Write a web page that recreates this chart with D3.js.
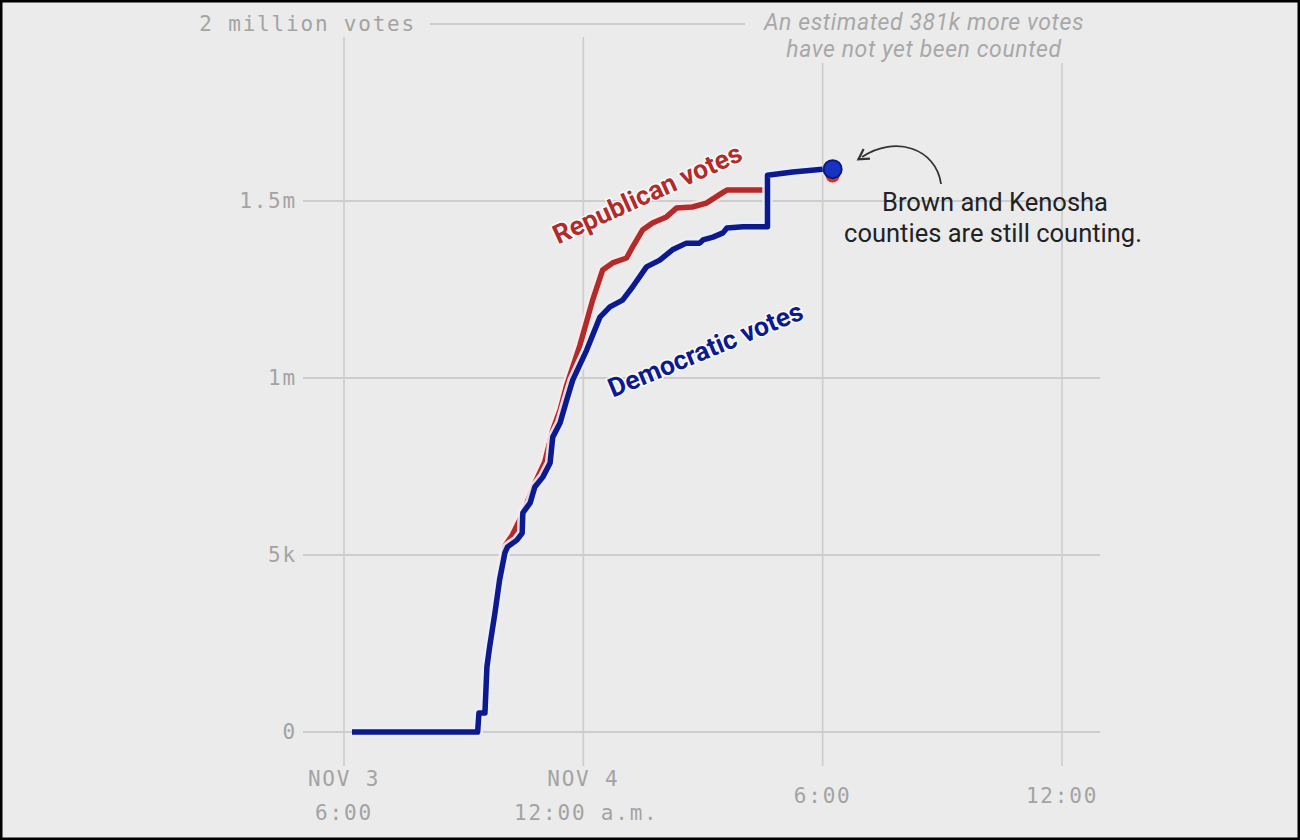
<!DOCTYPE html>
<html>
<head>
<meta charset="utf-8">
<script src="https://cdn.jsdelivr.net/npm/d3@7"></script>
<style>
  html, body { margin: 0; padding: 0; background: #ebebeb; }
  svg { display: block; }
  .tick-label { font-family: "DejaVu Sans Mono", monospace; font-size: 21px; fill: #a3a3a3; letter-spacing: 1.8px; }
</style>
</head>
<body>
<svg id="chart" width="1300" height="840"></svg>
<script>
// Vote counts in thousands
const demTimes = ["2020-11-03 18:12", "2020-11-03 21:21", "2020-11-03 21:23", "2020-11-03 21:32", "2020-11-03 21:35",
  "2020-11-03 21:39", "2020-11-03 21:47", "2020-11-03 21:54", "2020-11-03 22:02", "2020-11-03 22:06",
  "2020-11-03 22:20", "2020-11-03 22:28", "2020-11-03 22:29", "2020-11-03 22:40", "2020-11-03 22:47",
  "2020-11-03 22:59", "2020-11-03 23:10", "2020-11-03 23:14", "2020-11-03 23:25", "2020-11-03 23:35",
  "2020-11-03 23:44", "2020-11-04 00:05", "2020-11-04 00:25", "2020-11-04 00:40", "2020-11-04 00:59",
  "2020-11-04 01:14", "2020-11-04 01:35", "2020-11-04 01:55", "2020-11-04 02:14", "2020-11-04 02:35",
  "2020-11-04 02:55", "2020-11-04 03:00", "2020-11-04 03:15", "2020-11-04 03:30", "2020-11-04 03:36",
  "2020-11-04 04:00", "2020-11-04 04:37", "2020-11-04 04:37", "2020-11-04 05:15", "2020-11-04 06:00"];
const demVotes = [0, 0, 54, 54, 184,
  240, 336, 429, 506, 523,
  542, 562, 619, 647, 692,
  720, 760, 833, 873, 938,
  994, 1079, 1172, 1201, 1220,
  1257, 1314, 1333, 1362, 1381,
  1381, 1390, 1398, 1410, 1424,
  1427, 1427, 1573, 1582, 1590];

const repTimes = ["2020-11-03 18:12", "2020-11-03 21:21", "2020-11-03 21:23", "2020-11-03 21:32", "2020-11-03 21:35",
  "2020-11-03 21:39", "2020-11-03 21:47", "2020-11-03 21:54", "2020-11-03 22:03", "2020-11-03 22:13",
  "2020-11-03 22:28", "2020-11-03 22:47", "2020-11-03 23:02", "2020-11-03 23:14", "2020-11-03 23:25",
  "2020-11-03 23:35", "2020-11-03 23:55", "2020-11-04 00:14", "2020-11-04 00:29", "2020-11-04 00:44",
  "2020-11-04 01:05", "2020-11-04 01:14", "2020-11-04 01:29", "2020-11-04 01:44", "2020-11-04 02:05",
  "2020-11-04 02:20", "2020-11-04 02:44", "2020-11-04 03:05", "2020-11-04 03:29", "2020-11-04 03:36",
  "2020-11-04 04:33"];
const repVotes = [0, 0, 54, 54, 184,
  240, 336, 435, 528, 556,
  613, 703, 763, 853, 910,
  980, 1093, 1220, 1305, 1325,
  1339, 1370, 1418, 1438, 1455,
  1480, 1483, 1494, 1523, 1531,
  1531];

// end markers (time, thousands)
const demEnd = ["2020-11-04 06:15", 1590];
const repEnd = ["2020-11-04 06:15", 1572];

const yTicks = [0, 500, 1000, 1500, 2000];
const yTickLabels = ["0", "5k", "1m", "1.5m", "2 million votes"];
const xTicks = ["2020-11-03 18:00", "2020-11-04 00:00", "2020-11-04 06:00", "2020-11-04 12:00"];
const xTickLabels = [["NOV 3", "6:00"], ["NOV 4", "12:00 a.m."], ["6:00"], ["12:00"]];

const parse = d3.timeParse("%Y-%m-%d %H:%M");
const svg = d3.select("#chart");

// frame + background
svg.append("rect").attr("x", 1).attr("y", 1).attr("width", 1298).attr("height", 838)
  .attr("fill", "#ebebeb").attr("stroke", "#000").attr("stroke-width", 3);

const x = d3.scaleTime().domain([parse(xTicks[0]), parse(xTicks[3])]).range([344, 1062]);
const y = d3.scaleLinear().domain([0, 2000]).range([732, 24]);

const grid = svg.append("g");
// vertical grid
grid.selectAll(".vline").data(xTicks).enter().append("line")
  .attr("x1", d => x(parse(d))).attr("x2", d => x(parse(d)))
  .attr("y1", (d, i) => i < 2 ? 37 : 63).attr("y2", 766)
  .attr("stroke", "#cdcdcd").attr("stroke-width", 1.6);
// horizontal grid
grid.selectAll(".hline").data(yTicks).enter().append("line")
  .attr("x1", d => d === 2000 ? 430 : 303).attr("x2", d => d === 2000 ? 745 : 1100)
  .attr("y1", d => y(d)).attr("y2", d => y(d))
  .attr("stroke", "#cdcdcd").attr("stroke-width", 1.8);

// y labels
svg.selectAll(".ylab").data(yTicks).enter().append("text")
  .attr("class", "tick-label")
  .attr("x", d => d === 2000 ? 416 : 297).attr("y", d => y(d))
  .attr("dy", "0.35em").attr("text-anchor", "end")
  .text((d, i) => yTickLabels[i]);

// x labels
xTicks.forEach((t, i) => {
  const lines = xTickLabels[i];
  const txt = svg.append("text").attr("class", "tick-label")
    .attr("x", x(parse(t))).attr("text-anchor", "middle");
  if (lines.length === 2) {
    txt.append("tspan").attr("x", x(parse(t))).attr("y", 786).text(lines[0]);
    txt.append("tspan").attr("x", x(parse(t)) + (i === 1 ? 3 : 0)).attr("y", 820).text(lines[1]);
  } else {
    txt.attr("y", 803).text(lines[0]);
  }
});

// top annotation
const note = svg.append("text").attr("text-anchor", "middle")
  .style("font-family", "Roboto, sans-serif").style("font-style", "italic")
  .style("font-size", "23px").style("letter-spacing", "0.6px").style("fill", "#a8a8a8");
note.append("tspan").attr("x", 924).attr("y", 30).text("An estimated 381k more votes");
note.append("tspan").attr("x", 924).attr("y", 57).text("have not yet been counted");

const line = d3.line().x(d => x(d.t)).y(d => y(d.v)).curve(d3.curveLinear);
const dem = demTimes.map((t, i) => ({ t: parse(t), v: demVotes[i] }));
const rep = repTimes.map((t, i) => ({ t: parse(t), v: repVotes[i] }));

const series = [
  { data: rep, color: "#b22b2b", halo: "rgba(255,232,232,0.9)" },
  { data: dem, color: "#0d1a8e", halo: "rgba(232,238,255,0.9)" }
];
series.forEach(s => {
  svg.append("path").datum(s.data).attr("d", line).attr("fill", "none")
    .attr("stroke", s.halo).attr("stroke-width", 10.5).attr("stroke-linejoin", "round");
  svg.append("path").datum(s.data).attr("d", line).attr("fill", "none")
    .attr("stroke", s.color).attr("stroke-width", 5.5).attr("stroke-linejoin", "round");
});

// end dots
svg.append("circle").attr("cx", x(parse(repEnd[0]))).attr("cy", y(repEnd[1])).attr("r", 8)
  .attr("fill", "#c0392b").attr("stroke", "#f4dede").attr("stroke-width", 2);
svg.append("circle").attr("cx", x(parse(demEnd[0]))).attr("cy", y(demEnd[1])).attr("r", 9)
  .attr("fill", "#1733c2").attr("stroke", "#0c1a80").attr("stroke-width", 2);

// series labels
const labelStyle = sel => sel.attr("text-anchor", "middle")
  .style("font-family", "Roboto, sans-serif").style("font-weight", "bold").style("font-size", "26.5px")
  .style("paint-order", "stroke").style("stroke", "rgba(255,255,255,0.8)").style("stroke-width", "3px");
svg.append("text").attr("transform", "translate(651,202) rotate(-24.5)")
  .call(labelStyle).style("fill", "#b22b2b").text("Republican votes");
svg.append("text").attr("transform", "translate(709,358) rotate(-22.5)")
  .call(labelStyle).style("fill", "#0d1a8e").text("Democratic votes");

// callout
const callout = svg.append("text").attr("text-anchor", "middle")
  .style("font-family", "Roboto, sans-serif").style("font-size", "25.5px").style("fill", "#222");
callout.append("tspan").attr("x", 995).attr("y", 211).text("Brown and Kenosha");
callout.append("tspan").attr("x", 993).attr("y", 242).text("counties are still counting.");

svg.append("defs").append("marker").attr("id", "arr")
  .attr("viewBox", "0 0 10 10").attr("refX", 5).attr("refY", 5)
  .attr("markerWidth", 8).attr("markerHeight", 8).attr("orient", "auto-start-reverse")
  .append("path").attr("d", "M1,1 L8,5 L1,9").attr("fill", "none").attr("stroke", "#333").attr("stroke-width", 1.5);
svg.append("path").attr("d", "M 941,184 C 936,148 895,135 862,157")
  .attr("fill", "none").attr("stroke", "#333").attr("stroke-width", 1.8)
  .attr("marker-end", "url(#arr)");
</script>
</body>
</html>
